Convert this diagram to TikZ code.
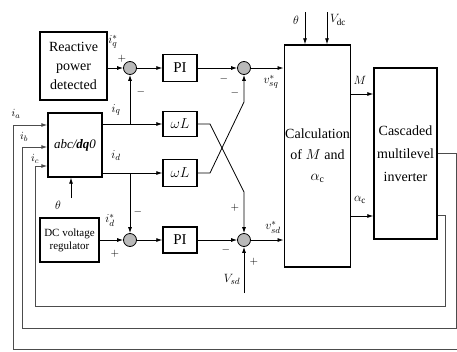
\documentclass[tikz,border=0pt]{standalone}
\usepackage{fontspec}
\setmainfont{Liberation Serif}
\usetikzlibrary{arrows.meta}

\begin{document}
\begin{tikzpicture}[x=1pt,y=-1pt,
    blk/.style={draw,line width=1.4pt,inner sep=1pt,align=center},
    sumpt/.style={circle,draw,line width=0.8pt,fill=gray!55,minimum size=13pt,inner sep=0pt},
    sig/.style={line width=0.8pt,-{Latex[length=6pt,width=4pt]}},
    fb/.style={line width=0.9pt,draw=black!70,-{Latex[length=6pt,width=4pt]}},
    lbl/.style={font=\fontsize{13}{15}\selectfont,inner sep=0pt},
    sgn/.style={font=\fontsize{11}{13}\selectfont,inner sep=0pt}]
    \useasboundingbox (0,0) rectangle (457,351);

    % blocks
    \node[blk,minimum width=67pt,minimum height=68pt,font=\fontsize{14}{19}\selectfont] (react) at (73.5,66) {Reactive\\power\\detected};
    \node[blk,minimum width=54pt,minimum height=64pt,font=\fontsize{13}{15}\selectfont] (abc) at (75,145) {\itshape abc/\textbf{dq}0};
    \node[blk,minimum width=59pt,minimum height=44pt,font=\fontsize{11}{13}\selectfont] (dcreg) at (69.5,240) {DC voltage\\regulator};
    \node[blk,minimum width=34pt,minimum height=27pt,font=\fontsize{15}{17}\selectfont] (pi1) at (180,68) {PI};
    \node[blk,minimum width=34pt,minimum height=25pt,font=\fontsize{14}{16}\selectfont] (wl1) at (180,124) {$\omega L$};
    \node[blk,minimum width=34pt,minimum height=27pt,font=\fontsize{14}{16}\selectfont] (wl2) at (180,173) {$\omega L$};
    \node[blk,minimum width=34pt,minimum height=26pt,font=\fontsize{15}{17}\selectfont] (pi2) at (180,240) {PI};
    \node[blk,minimum width=61pt,minimum height=222pt,font=\fontsize{14}{21}\selectfont] (calc) at (317.5,156) {Calculation\\of $M$ and\\$\alpha_{\rm c}$};
    \node[blk,minimum width=63pt,minimum height=171pt,font=\fontsize{14}{23}\selectfont] (inv) at (405.5,153.5) {Cascaded\\multilevel\\inverter};

    % summing points
    \node[sumpt] (s1) at (130,68) {};
    \node[sumpt] (s2) at (244,68) {};
    \node[sumpt] (s3) at (130,240) {};
    \node[sumpt] (s4) at (244,240) {};

    % q axis
    \draw[sig] (react.east |- s1) -- (s1);
    \draw[sig] (s1) -- (pi1);
    \draw[sig] (pi1) -- (s2);
    \draw[sig] (s2) -- (s2 -| calc.west);
    \draw[sig] (abc.east |- wl1) -- (wl1);
    \draw[sig] (s1 |- wl1) -- (s1);

    % d axis
    \draw[sig] (abc.east |- wl2) -- (wl2);
    \draw[sig] (s3 |- wl2) -- (s3);
    \draw[sig] (dcreg.east |- s3) -- (s3);
    \draw[sig] (s3) -- (pi2);
    \draw[sig] (pi2) -- (s4);
    \draw[sig] (s4) -- (s4 -| calc.west);

    % decoupling
    \draw[sig] (wl1.east) -- (210,124) -- (244,192) -- (s4);
    \draw[sig] (wl2.east) -- (210,173) -- (244,102) -- (s2);

    % inputs
    \coordinate (thc) at (305,12);
    \coordinate (vdc) at (327,12);
    \coordinate (thabc) at (71,198);
    \coordinate (vsd) at (244,293);
    \draw[sig] (thc) -- (thc |- calc.north);
    \draw[sig] (vdc) -- (vdc |- calc.north);
    \draw[sig] (thabc) -- (thabc |- abc.south);
    \draw[sig] (vsd) -- (s4);

    % calc to inverter
    \coordinate (mrow) at (0,94);
    \coordinate (arow) at (0,216);
    \draw[sig] (calc.east |- mrow) -- (inv.west |- mrow);
    \draw[sig] (calc.east |- arow) -- (inv.west |- arow);

    % feedback
    \coordinate (ia) at (0,125);
    \coordinate (ib) at (0,147);
    \coordinate (ic) at (0,166);
    \coordinate (ob) at (0,153);
    \coordinate (oc) at (0,215);
    \draw[fb] (inv.east |- ob) -- (456,153) -- (456,328) -- (22,328) -- (22,147) -- (abc.west |- ib);
    \draw[fb] (inv.east |- oc) -- (445,215) -- (445,306) -- (35,306) -- (35,166) -- (abc.west |- ic);
    \draw[fb] (457,349) -- (13,349) -- (13,125) -- (abc.west |- ia);

    % labels
    \node[lbl] at (113,42) {$i_q^*$};
    \node[sgn] at (122,59) {$+$};
    \node[sgn] at (141,92) {$-$};
    \node[lbl] at (116,110) {$i_q$};
    \node[lbl] at (116,156) {$i_d$};
    \node[lbl] at (110,220) {$i_d^*$};
    \node[sgn] at (138,212) {$-$};
    \node[sgn] at (115,254) {$+$};
    \node[sgn] at (224,79) {$-$};
    \node[sgn] at (235,93) {$-$};
    \node[lbl] at (271,82) {$v_{sq}^*$};
    \node[sgn] at (235,208) {$+$};
    \node[lbl] at (273,227) {$v_{sd}^*$};
    \node[sgn] at (226,250) {$-$};
    \node[sgn] at (254,262) {$+$};
    \node[lbl] at (232,279) {$V_{sd}$};
    \node[lbl] at (296,20) {$\theta$};
    \node[lbl] at (338,20) {$V_{\rm dc}$};
    \node[lbl] at (360,80) {$M$};
    \node[lbl] at (360,200) {$\alpha_{\rm c}$};
    \node[lbl] at (58,205) {$\theta$};
    \node[sgn] at (16,114) {$i_a$};
    \node[sgn] at (24,137) {$i_b$};
    \node[sgn] at (35,159) {$i_c$};
\end{tikzpicture}
\end{document}
